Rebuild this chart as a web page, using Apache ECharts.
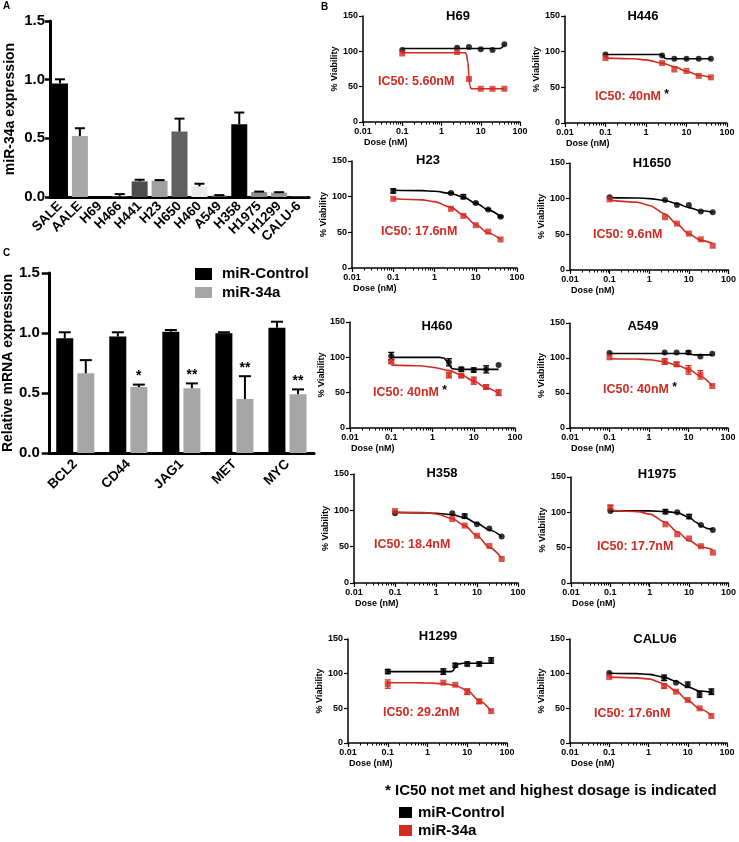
<!DOCTYPE html>
<html><head><meta charset="utf-8">
<script src="https://cdn.jsdelivr.net/npm/echarts@6/dist/echarts.min.js"></script>
<style>html,body{margin:0;padding:0;background:#fff}#c{width:739px;height:842px}</style>
</head><body><div id="c"></div>
<script>
const FONT = '"Liberation Sans", Arial, Helvetica, sans-serif';
const RED = '#d22b1f';

// ---------- Panel A data ----------
const catsA = ['SALE','AALE','H69','H466','H441','H23','H650','H460','A549','H358','H1975','H1299','CALU-6'];
const valsA = [0.968,0.52,0,0.005,0.133,0.139,0.558,0.09,0.012,0.62,0.042,0.037,0.004];
const errA  = [0.035,0.066,0,0.02,0.014,0.005,0.11,0.023,0.004,0.1,0.004,0.004,0];
const yTicksA = [0,0.5,1.0,1.5];

// ---------- Panel C data ----------
const genesC = ['BCL2','CD44','JAG1','MET','MYC'];
const ctrlC = [0.956,0.97,1.011,0.997,1.044];
const ctrlErrC = [0.05,0.036,0.014,0.009,0.05];
const mirC = [0.664,0.55,0.54,0.45,0.49];
const mirErrC = [0.11,0.02,0.04,0.19,0.04];
const starsC = ['','*','**','**','**'];
const legendC = ['miR-Control','miR-34a'];

// ---------- Panel B data ----------
const doses = [0.1,2.5,5,10,20,40];
const xTickLabelsB = ['0.01','0.1','1','10','100'];
const yTicksB = [0,50,100,150];
const cellNames = ['H69','H446','H23','H1650','H460','A549','H358','H1975','H1299','CALU6'];
const ic50Labels = ['IC50: 5.60nM','IC50: 40nM','IC50: 17.6nM','IC50: 9.6nM','IC50: 40nM','IC50: 40nM','IC50: 18.4nM','IC50: 17.7nM','IC50: 29.2nM','IC50: 17.6nM'];
const ic50NotMet = [false,true,false,false,true,true,false,false,false,false];

const H69_ctrl = [102,105,106,103,102,110];
const H69_ctrlErr = [0,0,0,0,0,0];
const H69_mir = [97,99,61,47,47,47];
const H69_mirErr = [0,0,0,0,0,0];
const H69_ctrlFit = [[0.1,104],[30,104],[34,105],[37,107],[40,110]];
const H69_mirFit = [[0.1,98],[4,98],[4.3,96],[4.7,85],[5,65],[5.3,51],[5.7,47],[40,47]];

const H446_ctrl = [96,94.5,90,90,90,90];
const H446_ctrlErr = [0,0,0,0,0,0];
const H446_mir = [91,84,75,73,66,64];
const H446_mirErr = [0,0,0,0,0,0];
const H446_ctrlFit = [[0.1,96],[2.3,96],[2.6,94],[2.9,91],[3.3,90],[40,90]];
const H446_mirFit = [[0.1,91],[0.5,90],[1,88.5],[2.5,84],[5,79],[10,72.5],[20,67],[40,64]];

const H23_ctrl = [108,105,100,91,82,72];
const H23_ctrlErr = [3,1,3,1,1,1];
const H23_mir = [97,83,73,60,51,40];
const H23_mirErr = [0,0,0,0,0,0];
const H23_ctrlFit = [[0.1,109],[0.5,108.5],[1,107.5],[2.5,104.5],[5,99.5],[10,91],[20,81.5],[40,72]];
const H23_mirFit = [[0.1,97],[0.5,95.5],[1,93],[2.5,85],[5,74.5],[10,61],[20,49],[40,40]];

const H1650_ctrl = [102,98,91,91,82,81];
const H1650_ctrlErr = [0,0,0,0,0,0];
const H1650_mir = [99,74,65,51,43,34];
const H1650_mirErr = [0,0,0,0,0,0];
const H1650_ctrlFit = [[0.1,101.5],[0.5,101],[1,100],[2.5,97.5],[5,93],[10,87.5],[20,83],[40,81]];
const H1650_mirFit = [[0.1,98],[0.5,95],[1,90.5],[2.5,78.5],[5,64.5],[10,50.5],[20,41.5],[40,37]];

const H460_ctrl = [102,93,83,82,83,89];
const H460_ctrlErr = [5,5,3,3,5,0];
const H460_mir = [94,75,74,67,58,50];
const H460_mirErr = [2,4,2,5,3,4];
const H460_ctrlFit = [[0.1,100],[1.5,100],[1.9,99],[2.2,95],[2.6,88],[3,84],[4,83],[40,83]];
const H460_mirFit = [[0.1,89],[0.5,88],[1,86],[2.5,81.5],[5,75],[10,66.5],[20,57],[40,49]];

const A549_ctrl = [107,108,108,108,102,106];
const A549_ctrlErr = [0,0,0,2,0,0];
const A549_mir = [101,95,91,83,76,60];
const A549_mirErr = [0,4,3,6,6,0];
const A549_ctrlFit = [[0.1,106.5],[8,106.5],[10,106],[12,105],[15,104.5],[40,104.5]];
const A549_mirFit = [[0.1,99],[0.5,98.5],[1,97.5],[2.5,94.5],[5,90],[10,84],[20,74],[40,60]];

const H358_ctrl = [96,96,92,81,75,64];
const H358_ctrlErr = [0,0,3,0,0,0];
const H358_mir = [99,88,79,65,51,33];
const H358_mirErr = [0,0,0,0,0,0];
const H358_ctrlFit = [[0.1,97],[0.5,96.5],[1,96],[2.5,94],[5,90],[10,82],[20,73],[40,64]];
const H358_mirFit = [[0.1,97.5],[0.5,97],[1,95],[2.5,88.5],[5,79],[10,65],[20,49],[40,34]];

const H1975_ctrl = [102,101,100,94,82,75];
const H1975_ctrlErr = [0,3,0,3,0,0];
const H1975_mir = [107,83,69,63,52,43];
const H1975_mirErr = [3,0,0,0,0,0];
const H1975_ctrlFit = [[0.1,102],[1,102],[2.5,101],[5,99.5],[10,93],[15,86],[20,81],[30,77],[40,76]];
const H1975_mirFit = [[0.1,103],[0.5,101],[1,97.5],[2.5,86],[5,72.5],[10,60],[20,51],[40,47]];

const H1299_ctrl = [103,103,112,114,114,119];
const H1299_ctrlErr = [3,4,3,3,3,4];
const H1299_mir = [85,87,84,74,60,46];
const H1299_mirErr = [6,0,0,4,3,0];
const H1299_ctrlFit = [[0.1,103],[4,103],[4.4,104.5],[4.8,108],[5.2,111],[6,114],[8,115],[40,115]];
const H1299_mirFit = [[0.1,87],[0.5,87],[1,86.5],[2.5,85.5],[5,83],[10,76],[20,61],[40,46]];

const CALU6_ctrl = [101,94,87,84,70,74];
const CALU6_ctrlErr = [0,4,0,4,4,4];
const CALU6_mir = [95,82,74,62,50,39];
const CALU6_mirErr = [0,3,0,0,0,0];
const CALU6_ctrlFit = [[0.1,100.5],[0.5,100],[1,99],[2.5,95],[5,89],[10,81],[20,75],[40,73]];
const CALU6_mirFit = [[0.1,95],[0.5,94],[1,92.5],[2.5,85.5],[5,75],[10,61.5],[20,49.5],[40,40]];

const cellData = [
  [H69_ctrl,H69_ctrlErr,H69_mir,H69_mirErr,H69_ctrlFit,H69_mirFit],
  [H446_ctrl,H446_ctrlErr,H446_mir,H446_mirErr,H446_ctrlFit,H446_mirFit],
  [H23_ctrl,H23_ctrlErr,H23_mir,H23_mirErr,H23_ctrlFit,H23_mirFit],
  [H1650_ctrl,H1650_ctrlErr,H1650_mir,H1650_mirErr,H1650_ctrlFit,H1650_mirFit],
  [H460_ctrl,H460_ctrlErr,H460_mir,H460_mirErr,H460_ctrlFit,H460_mirFit],
  [A549_ctrl,A549_ctrlErr,A549_mir,A549_mirErr,A549_ctrlFit,A549_mirFit],
  [H358_ctrl,H358_ctrlErr,H358_mir,H358_mirErr,H358_ctrlFit,H358_mirFit],
  [H1975_ctrl,H1975_ctrlErr,H1975_mir,H1975_mirErr,H1975_ctrlFit,H1975_mirFit],
  [H1299_ctrl,H1299_ctrlErr,H1299_mir,H1299_mirErr,H1299_ctrlFit,H1299_mirFit],
  [CALU6_ctrl,CALU6_ctrlErr,CALU6_mir,CALU6_mirErr,CALU6_ctrlFit,CALU6_mirFit]
];

// ---------- layout / style (not data) ----------
const barColorsA = ['#000000','#a7a7aa','#777777','#777777','#4d4d4d','#a0a0a3','#606060','#ebebeb','#555555','#000000','#8a8a8a','#9a9a9a','#777777'];
const gridB = [[363,16,157,106],[565,16,162,107],[352,161,165,107],[570,163,160,107],[350,322,165,106],
               [570,323,158,105],[354,474,164,109],[571,477,161,106],[348,639,159,104],[570,639,157,104]];
const titlePosB = [[458,16],[643,16],[428,160],[652,163],[437,326],[643,326],[442,473],[657,474],[438,636],[655,639]];
const ic50PosB = [[378,82],[595,97],[381,232],[593,235],[373,393],[603,390],[374,545],[597,547],[383,713],[594,714]];

const grids = [
  {left:50, top:21, width:259, height:176},
  {left:47, top:273, width:267, height:180}
];
const xAxes = [];
const yAxes = [];
const series = [];
const graphics = [];

// Panel A axes
xAxes.push({type:'category', gridIndex:0, data:catsA,
  axisLine:{lineStyle:{color:'#000', width:3}},
  axisTick:{alignWithLabel:true, length:4, lineStyle:{width:2, color:'#000'}},
  axisLabel:{rotate:45, interval:0, fontSize:13.5, fontWeight:'bold', color:'#000', fontFamily:FONT, margin:7}});
yAxes.push({type:'value', gridIndex:0, min:yTicksA[0], max:yTicksA[yTicksA.length-1], interval:0.5,
  name:'miR-34a expression', nameLocation:'middle', nameGap:33,
  nameTextStyle:{fontSize:14, fontWeight:'bold', color:'#000', fontFamily:FONT},
  axisLine:{show:true, lineStyle:{color:'#000', width:3}},
  axisTick:{show:true, length:5, lineStyle:{width:2.5, color:'#000'}},
  splitLine:{show:false},
  axisLabel:{fontSize:15, fontWeight:'bold', color:'#000', fontFamily:FONT, margin:5, formatter:v=>v.toFixed(1)}});

// Panel C axes
xAxes.push({type:'category', gridIndex:1, data:genesC,
  axisLine:{lineStyle:{color:'#000', width:3}},
  axisTick:{show:false},
  axisLabel:{rotate:45, interval:0, fontSize:13.5, fontWeight:'bold', color:'#000', fontFamily:FONT, margin:9}});
yAxes.push({type:'value', gridIndex:1, min:0, max:1.5, interval:0.5,
  name:'Relative mRNA expression', nameLocation:'middle', nameGap:29,
  nameTextStyle:{fontSize:14, fontWeight:'bold', color:'#000', fontFamily:FONT},
  axisLine:{show:true, lineStyle:{color:'#000', width:3}},
  axisTick:{show:true, length:7, lineStyle:{width:2.5, color:'#000'}},
  splitLine:{show:false},
  axisLabel:{fontSize:15, fontWeight:'bold', color:'#000', fontFamily:FONT, margin:9, formatter:v=>v.toFixed(1)}});

// Panel A series
series.push({type:'bar', xAxisIndex:0, yAxisIndex:0, barWidth:16, silent:true,
  data:valsA.map((v,i)=>({value:v, itemStyle:{color:barColorsA[i]}}))});
series.push({type:'custom', xAxisIndex:0, yAxisIndex:0, silent:true, z:5,
  data:valsA.map((v,i)=>[i,v,errA[i]]),
  renderItem:(p,api)=>{
    const i=api.value(0), v=api.value(1), e=api.value(2);
    if(!e) return null;
    const a=api.coord([i,v]), b=api.coord([i,v+e]);
    return {type:'group', children:[
      {type:'line', shape:{x1:a[0],y1:a[1],x2:b[0],y2:b[1]}, style:{stroke:'#000',lineWidth:2}},
      {type:'line', shape:{x1:b[0]-5,y1:b[1],x2:b[0]+5,y2:b[1]}, style:{stroke:'#000',lineWidth:2}}
    ]};
  }});

// Panel C series
series.push({type:'bar', name:legendC[0], xAxisIndex:1, yAxisIndex:1, barWidth:17, barGap:'24%', silent:true,
  itemStyle:{color:'#000'}, data:ctrlC});
series.push({type:'bar', name:legendC[1], xAxisIndex:1, yAxisIndex:1, barWidth:17, barGap:'24%', silent:true,
  itemStyle:{color:'#a6a6a6'}, data:mirC});
function errC(vals, errs, off, stars){
  return {type:'custom', xAxisIndex:1, yAxisIndex:1, silent:true, z:5,
    data:vals.map((v,i)=>[i,v,errs[i]]),
    renderItem:(p,api)=>{
      const i=api.value(0), v=api.value(1), e=api.value(2);
      const a=api.coord([i,v]), b=api.coord([i,v+e]);
      const x=a[0]+off;
      const ch=[
        {type:'line', shape:{x1:x,y1:a[1],x2:x,y2:b[1]}, style:{stroke:'#000',lineWidth:2}},
        {type:'line', shape:{x1:x-6,y1:b[1],x2:x+6,y2:b[1]}, style:{stroke:'#000',lineWidth:2}}
      ];
      if(stars && stars[i]) ch.push({type:'text', x:x, y:b[1]-1, style:{text:stars[i], textAlign:'center', textVerticalAlign:'bottom', font:'bold 14px '+FONT, fill:'#000'}});
      return {type:'group', children:ch};
    }};
}
series.push(errC(ctrlC, ctrlErrC, -10.5, null));
series.push(errC(mirC, mirErrC, 10.5, starsC));

// Panel B
const minorVals = [];
[-2,-1,0,1].forEach(n=>{ for(let k=2;k<=9;k++) minorVals.push(n+Math.log10(k)); });

function errB(xi, yi, vals, errs, color){
  return {type:'custom', xAxisIndex:xi, yAxisIndex:yi, silent:true, z:4,
    data:doses.map((d,i)=>[Math.log10(d), vals[i], errs[i]]).filter(r=>r[2]>0),
    renderItem:(p,api)=>{
      const x=api.value(0), v=api.value(1), e=api.value(2);
      const t=api.coord([x,v+e]), b=api.coord([x,v-e]);
      return {type:'group', children:[
        {type:'line', shape:{x1:t[0],y1:t[1],x2:b[0],y2:b[1]}, style:{stroke:color,lineWidth:1.3}},
        {type:'line', shape:{x1:t[0]-3,y1:t[1],x2:t[0]+3,y2:t[1]}, style:{stroke:color,lineWidth:1.3}},
        {type:'line', shape:{x1:b[0]-3,y1:b[1],x2:b[0]+3,y2:b[1]}, style:{stroke:color,lineWidth:1.3}}
      ]};
    }};
}

cellNames.forEach((name, k)=>{
  const g = gridB[k];
  const gi = grids.length;
  grids.push({left:g[0], top:g[1], width:g[2], height:g[3]});
  const xi = xAxes.length;
  xAxes.push({type:'value', gridIndex:gi, min:-2, max:2, interval:1,
    axisLine:{show:true, onZero:false, lineStyle:{color:'#000', width:1.5}},
    axisTick:{show:true, length:4, lineStyle:{color:'#000', width:1.2}},
    splitLine:{show:false},
    axisLabel:{fontSize:9, fontWeight:'bold', color:'#000', fontFamily:FONT, margin:5,
      formatter:v=>xTickLabelsB[Math.round(v)+2]}});
  xAxes.push({type:'value', gridIndex:gi, min:-2, max:2, position:'bottom',
    axisLine:{show:false, onZero:false}, axisLabel:{show:false}, splitLine:{show:false},
    axisTick:{show:true, length:2.5, customValues:minorVals, lineStyle:{color:'#000', width:1}}});
  const yi = yAxes.length;
  yAxes.push({type:'value', gridIndex:gi, min:yTicksB[0], max:yTicksB[yTicksB.length-1], interval:50,
    name:'% Viability', nameLocation:'middle', nameGap:22,
    nameTextStyle:{fontSize:9, fontWeight:'bold', color:'#000', fontFamily:FONT},
    axisLine:{show:true, onZero:false, lineStyle:{color:'#000', width:1.5}},
    axisTick:{show:true, length:4, lineStyle:{color:'#000', width:1.2}},
    splitLine:{show:false},
    axisLabel:{fontSize:9, fontWeight:'bold', color:'#000', fontFamily:FONT, margin:5}});
  const [ctrl, ctrlErr, mir, mirErr, ctrlFit, mirFit] = cellData[k];
  const lineS = (fit,color)=>({type:'line', xAxisIndex:xi, yAxisIndex:yi, silent:true, showSymbol:false,
    smooth:0.3, smoothMonotone:'x', z:2,
    lineStyle:{color:color, width:1.6}, data:fit.map(p=>[Math.log10(p[0]), p[1]])});
  series.push(lineS(ctrlFit,'#000'));
  series.push(lineS(mirFit,RED));
  series.push(errB(xi, yi, ctrl, ctrlErr, '#000'));
  series.push(errB(xi, yi, mir, mirErr, RED));
  series.push({type:'scatter', xAxisIndex:xi, yAxisIndex:yi, silent:true, symbol:'circle', symbolSize:6, z:5,
    itemStyle:{color:'#000'}, data:doses.map((d,i)=>[Math.log10(d), ctrl[i]])});
  series.push({type:'scatter', xAxisIndex:xi, yAxisIndex:yi, silent:true, symbol:'rect', symbolSize:6, z:5,
    itemStyle:{color:RED}, data:doses.map((d,i)=>[Math.log10(d), mir[i]])});

  graphics.push({type:'text', x:titlePosB[k][0], y:titlePosB[k][1],
    style:{text:name, textAlign:'center', textVerticalAlign:'middle', font:'bold 13px '+FONT, fill:'#000'}});
  graphics.push({type:'text', x:ic50PosB[k][0], y:ic50PosB[k][1],
    style:{text: ic50NotMet[k] ? '{r|'+ic50Labels[k]+'} {k|*}' : '{r|'+ic50Labels[k]+'}',
      textVerticalAlign:'middle', textAlign:'left',
      rich:{r:{font:'bold 12.5px '+FONT, fill:RED}, k:{font:'bold 12px '+FONT, fill:'#000', padding:[0,0,4,0]}}}});
  graphics.push({type:'text', x:g[0]+1, y:g[1]+g[3]+21,
    style:{text:'Dose (nM)', textVerticalAlign:'middle', textAlign:'left', font:'bold 9px '+FONT, fill:'#000'}});
});

// panel letters
graphics.push({type:'text', x:3, y:6, style:{text:'A', textVerticalAlign:'middle', font:'bold 10px '+FONT, fill:'#000'}});
graphics.push({type:'text', x:321, y:7, style:{text:'B', textVerticalAlign:'middle', font:'bold 10px '+FONT, fill:'#000'}});
graphics.push({type:'text', x:3, y:253, style:{text:'C', textVerticalAlign:'middle', font:'bold 10px '+FONT, fill:'#000'}});

// panel C legend
graphics.push({type:'rect', shape:{x:195,y:268,width:17,height:12}, style:{fill:'#000'}});
graphics.push({type:'text', x:222, y:274, style:{text:legendC[0], textVerticalAlign:'middle', font:'bold 15px '+FONT, fill:'#000'}});
graphics.push({type:'rect', shape:{x:195,y:287,width:17,height:11}, style:{fill:'#a6a6a6'}});
graphics.push({type:'text', x:222, y:293, style:{text:legendC[1], textVerticalAlign:'middle', font:'bold 15px '+FONT, fill:'#000'}});

// bottom note + legend
graphics.push({type:'text', x:385, y:791, style:{text:'* IC50 not met and highest dosage is indicated', textVerticalAlign:'middle', font:'bold 15px '+FONT, fill:'#000'}});
graphics.push({type:'rect', shape:{x:399,y:807,width:13,height:11}, style:{fill:'#000'}});
graphics.push({type:'text', x:418, y:813, style:{text:'miR-Control', textVerticalAlign:'middle', font:'bold 15px '+FONT, fill:'#000'}});
graphics.push({type:'rect', shape:{x:399,y:825,width:13,height:11}, style:{fill:RED}});
graphics.push({type:'text', x:418, y:831, style:{text:'miR-34a', textVerticalAlign:'middle', font:'bold 15px '+FONT, fill:'#000'}});

const chart = echarts.init(document.getElementById('c'), null, {renderer:'canvas', width:739, height:842});
chart.setOption({
  animation:false,
  backgroundColor:'#fff',
  textStyle:{fontFamily:FONT},
  grid:grids, xAxis:xAxes, yAxis:yAxes, series:series, graphic:graphics
});
</script></body></html>
